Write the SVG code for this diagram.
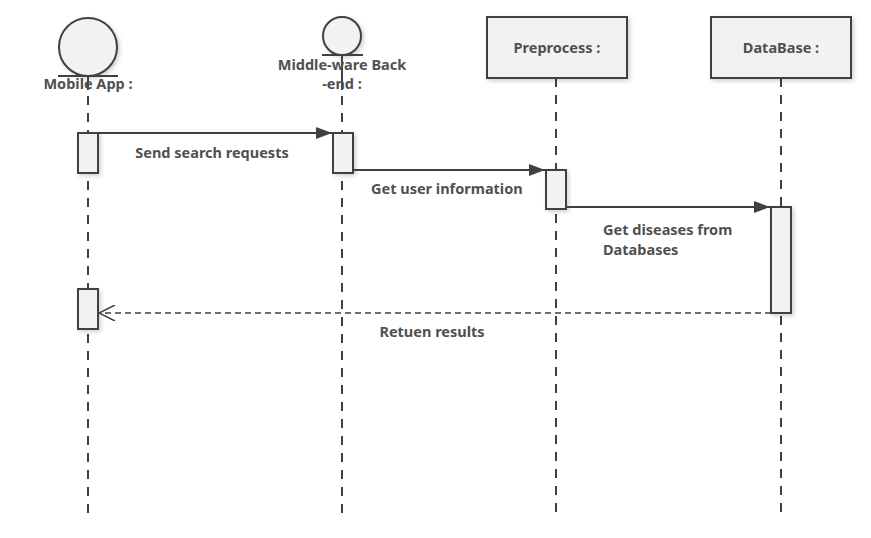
<svg xmlns="http://www.w3.org/2000/svg" width="871" height="538" viewBox="0 0 871 538">
<defs>
<filter id="sh" x="-30%" y="-30%" width="160%" height="160%">
<feDropShadow dx="2" dy="2" stdDeviation="2" flood-color="#000" flood-opacity="0.18"/>
</filter>
<marker id="fa" markerWidth="16" markerHeight="12" refX="16" refY="6" orient="auto" markerUnits="userSpaceOnUse">
<path d="M0,0 L16,6 L0,12 Z" fill="#404040"/>
</marker>
<marker id="oa" markerWidth="18" markerHeight="16" refX="17" refY="8" orient="auto" markerUnits="userSpaceOnUse">
<path d="M1,0 L17,8 L1,16" fill="none" stroke="#404040" stroke-width="1.5"/>
</marker>
</defs>
<style>
.t{font-family:"Noto Sans","Open Sans","Liberation Sans",sans-serif;font-weight:bold;font-size:14.5px;fill:#505050}
.box{fill:#f2f2f2;stroke:#404040;stroke-width:2;filter:url(#sh)}
.act{fill:#f2f2f2;stroke:#404040;stroke-width:2;filter:url(#sh)}
.life{stroke:#404040;stroke-width:2;stroke-dasharray:9 8;fill:none}
.msg{stroke:#404040;stroke-width:2;fill:none}
.ret{stroke:#404040;stroke-width:1.5;stroke-dasharray:6 4;fill:none}
</style>
<rect width="871" height="538" fill="#fff"/>
<g id="lifelines">
<line class="life" x1="88" y1="96" x2="88" y2="518"/>
<line class="life" x1="342" y1="96" x2="342" y2="518"/>
<line class="life" x1="556" y1="78" x2="556" y2="518"/>
<line class="life" x1="781" y1="78" x2="781" y2="518"/>
</g>
<g id="mobile-app">
<circle cx="88" cy="47" r="29" fill="#f2f2f2" stroke="#404040" stroke-width="2" filter="url(#sh)"/>
<line x1="58" y1="76" x2="118" y2="76" stroke="#404040" stroke-width="2"/>
<line x1="88" y1="76" x2="88" y2="90" stroke="#404040" stroke-width="2"/>
<text class="t" x="88" y="89" text-anchor="middle">Mobile App :</text>
</g>
<g id="middleware">
<circle cx="342" cy="36" r="19" fill="#f2f2f2" stroke="#404040" stroke-width="2" filter="url(#sh)"/>
<line x1="322" y1="55" x2="363" y2="55" stroke="#404040" stroke-width="2"/>
<line x1="342" y1="55" x2="342" y2="90" stroke="#404040" stroke-width="2"/>
<text class="t" x="342" y="70" text-anchor="middle">Middle-ware Back</text>
<text class="t" x="342" y="89" text-anchor="middle">-end :</text>
</g>
<g id="preprocess">
<rect class="box" x="487" y="17" width="140" height="61"/>
<text class="t" x="557" y="53" text-anchor="middle">Preprocess :</text>
</g>
<g id="database">
<rect class="box" x="711" y="17" width="140" height="61"/>
<text class="t" x="781" y="53" text-anchor="middle">DataBase :</text>
</g>
<g id="activations">
<rect class="act" x="78" y="133" width="20" height="40"/>
<rect class="act" x="333" y="133" width="20" height="40"/>
<rect class="act" x="546" y="170" width="20" height="39"/>
<rect class="act" x="771" y="207" width="20" height="106"/>
<rect class="act" x="78" y="289" width="20" height="40"/>
</g>
<g id="connectors">
<line class="msg" x1="98" y1="133" x2="332" y2="133" marker-end="url(#fa)"/>
<line class="msg" x1="353" y1="170" x2="545" y2="170" marker-end="url(#fa)"/>
<line class="msg" x1="566" y1="207" x2="770" y2="207" marker-end="url(#fa)"/>
<line class="ret" x1="771" y1="313" x2="99" y2="313" marker-end="url(#oa)"/>
<text class="t" x="212" y="158" text-anchor="middle">Send search requests</text>
<text class="t" x="371" y="194">Get user information</text>
<text class="t" x="603" y="235">Get diseases from</text>
<text class="t" x="603" y="255">Databases</text>
<text class="t" x="432" y="337" text-anchor="middle">Retuen results</text>
</g>
</svg>
